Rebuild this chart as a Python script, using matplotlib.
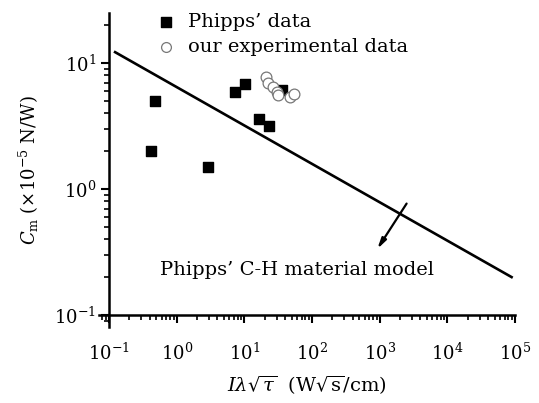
import matplotlib
matplotlib.use("Agg")
import matplotlib.pyplot as plt
import numpy as np

plt.rcParams["font.family"] = ["DejaVu Serif"]
plt.rcParams["mathtext.fontset"] = "dejavuserif"

# Phipps' data (filled squares)
phipps_x = [0.48, 0.42, 2.9, 7.3, 10.2, 16.4, 23.0, 36.0]
phipps_y = [5.0, 2.0, 1.5, 5.9, 6.8, 3.6, 3.16, 6.1]

# our experimental data (open circles)
ours_x = [21.0, 22.4, 26.4, 30.1, 31.3, 47.0, 54.0]
ours_y = [7.7, 6.9, 6.45, 5.9, 5.6, 5.4, 5.7]

# Phipps' C-H material model line
model_x = [0.123, 8.9e4]
model_y = [12.2, 0.2]

fig = plt.figure(figsize=(5.39, 4.03), dpi=100)
ax = fig.add_axes([0.1837, 0.1886, 0.9555 - 0.1837, 0.9677 - 0.1886])

ax.plot(model_x, model_y, "-", color="black", linewidth=1.9)
ax.scatter(phipps_x, phipps_y, marker="s", s=60, color="black", zorder=3)
ax.scatter(ours_x, ours_y, marker="o", s=60, facecolors="white",
           edgecolors="#777777", linewidths=0.9, zorder=4)

ax.set_xscale("log")
ax.set_yscale("log")
ax.set_xlim(10 ** -1.148, 1e5)
ax.set_ylim(10 ** -1.095, 10 ** 1.397)

ax.spines["top"].set_visible(False)
ax.spines["right"].set_visible(False)
ax.spines["left"].set_position(("data", 0.1))
ax.spines["bottom"].set_position(("data", 0.1))
for side in ("left", "bottom"):
    ax.spines[side].set_linewidth(1.8)

ax.set_xticks([10.0 ** k for k in range(-1, 6)])
ax.set_yticks([0.1, 1, 10])
ax.tick_params(which="major", direction="out", length=6, width=1.5, labelsize=13)
ax.tick_params(which="minor", direction="out", length=3.5, width=1.2)
ax.tick_params(axis="x", pad=14)

ax.set_xlabel(r"$I\lambda\sqrt{\tau}$  (W$\sqrt{\mathrm{s}}$/cm)", fontsize=14, labelpad=7)
ax.set_ylabel(r"$C_\mathrm{m}$ (×10$^{-5}$ N/W)", fontsize=13, labelpad=9)

# legend drawn as markers + text in data space
ax.scatter([0.695], [21.1], marker="s", s=45, color="black", clip_on=False)
ax.text(1.47, 21.1, "Phipps’ data", fontsize=14, va="center")
ax.scatter([0.695], [13.4], marker="o", s=50, facecolors="white",
           edgecolors="#777777", linewidths=0.9, clip_on=False)
ax.text(1.47, 13.4, "our experimental data", fontsize=14, va="center")

ax.annotate("", xy=(875, 0.32), xytext=(2630, 0.80),
            arrowprops=dict(arrowstyle="-|>,head_length=0.6,head_width=0.15",
                            color="black", lw=1.6))
ax.text(0.57, 0.228, "Phipps’ C-H material model", fontsize=14, va="center")

fig.savefig("out.png", dpi=100)
